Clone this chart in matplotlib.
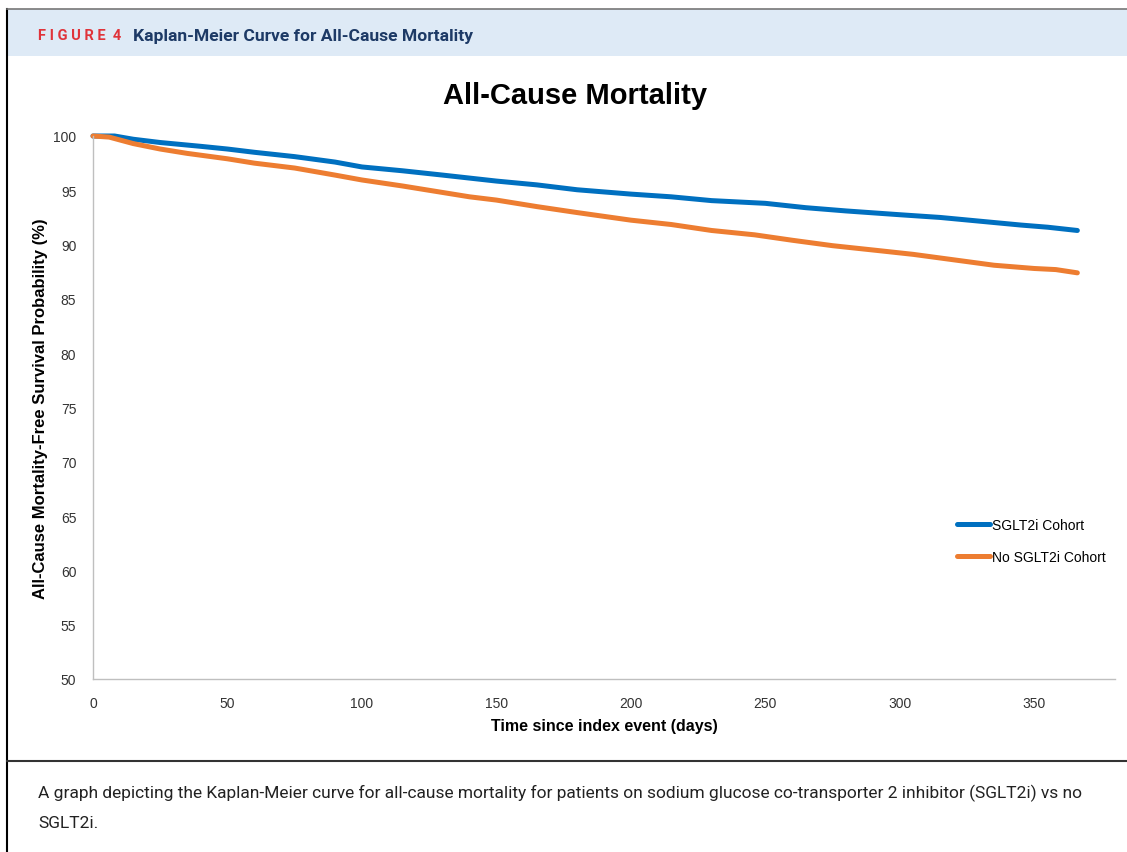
import matplotlib
matplotlib.use("Agg")
import matplotlib.pyplot as plt
from matplotlib.patches import Rectangle
from matplotlib.lines import Line2D

# Kaplan-Meier curves (days, survival %)
sglt2_days = [0, 8, 15, 25, 40, 50, 60, 75, 90, 100, 115, 130, 150, 165, 180,
              200, 215, 230, 250, 265, 280, 300, 315, 330, 345, 355, 366]
sglt2_surv = [100, 100, 99.7, 99.4, 99.05, 98.8, 98.5, 98.1, 97.6, 97.15, 96.8,
              96.4, 95.85, 95.5, 95.05, 94.65, 94.4, 94.05, 93.8, 93.4, 93.1,
              92.75, 92.5, 92.15, 91.8, 91.6, 91.3]

no_sglt2_days = [0, 6, 15, 25, 35, 50, 60, 75, 90, 100, 115, 130, 140, 150, 165,
                 180, 200, 215, 230, 246, 260, 275, 292, 305, 320, 335, 350, 358, 366]
no_sglt2_surv = [100, 99.9, 99.3, 98.8, 98.4, 97.9, 97.5, 97.05, 96.4, 95.95,
                 95.4, 94.8, 94.4, 94.1, 93.5, 92.95, 92.25, 91.85, 91.3, 90.9,
                 90.4, 89.9, 89.45, 89.1, 88.6, 88.1, 87.8, 87.7, 87.4]

x_ticks = [0, 50, 100, 150, 200, 250, 300, 350]
y_ticks = [50, 55, 60, 65, 70, 75, 80, 85, 90, 95, 100]

W, H = 1127, 853
fig = plt.figure(figsize=(W / 100, H / 100), dpi=100)


def fx(px):
    return px / W


def fy(py):
    return 1 - py / H


# header band and frame
fig.patches.append(Rectangle((fx(7), fy(57)), 1 - fx(7), (57 - 10) / H,
                             transform=fig.transFigure, facecolor="#deeaf6",
                             edgecolor="none", zorder=0))
fig.lines.append(Line2D([fx(7), fx(7)], [0, fy(10)], transform=fig.transFigure,
                        color="black", linewidth=1.5))
fig.lines.append(Line2D([fx(7), 1], [fy(10), fy(10)], transform=fig.transFigure,
                        color="#777777", linewidth=1.2))
fig.lines.append(Line2D([fx(7), 1], [fy(762), fy(762)], transform=fig.transFigure,
                        color="#333333", linewidth=1.5))

fig.text(fx(38), fy(36), "F I G U R E  4", color="#e0333a", fontsize=10.5,
         fontweight="bold", family="Roboto", va="center", ha="left")
fig.text(fx(133), fy(36), "Kaplan-Meier Curve for All-Cause Mortality",
         color="#1d3a66", fontsize=12.6, fontweight="bold", family="Roboto",
         va="center", ha="left")

caption = ("A graph depicting the Kaplan-Meier curve for all-cause mortality for patients "
           "on sodium glucose co-transporter 2 inhibitor (SGLT2i) vs no\nSGLT2i.")
fig.text(fx(38), fy(785), caption, color="#222222", fontsize=12.5,
         family="Roboto", va="top", ha="left", linespacing=2.15)

fig.text(fx(575), fy(96), "All-Cause Mortality", fontsize=21, fontweight="bold",
         family="Liberation Sans", ha="center", va="center")

ax = fig.add_axes([fx(93), fy(680), fx(1115) - fx(93), (680 - 137) / H])
ax.plot(sglt2_days, sglt2_surv, color="#0070C0", linewidth=3.6,
        solid_capstyle="round", clip_on=False, label="SGLT2i Cohort")
ax.plot(no_sglt2_days, no_sglt2_surv, color="#ED7D31", linewidth=3.6,
        solid_capstyle="round", clip_on=False, label="No SGLT2i Cohort")

ax.set_xlim(0, 380)
ax.set_ylim(50, 100)
ax.set_xticks(x_ticks)
ax.set_yticks(y_ticks)
ax.tick_params(length=0, labelsize=10, colors="#333333")
for lbl in ax.get_xticklabels() + ax.get_yticklabels():
    lbl.set_family("Liberation Sans")
ax.tick_params(axis="y", pad=12)
ax.tick_params(axis="x", pad=12)
for s in ["top", "right"]:
    ax.spines[s].set_visible(False)
for s in ["left", "bottom"]:
    ax.spines[s].set_color("#bfbfbf")
    ax.spines[s].set_linewidth(1)

ax.set_xlabel("Time since index event (days)", fontsize=11.5, fontweight="bold",
              family="Liberation Sans", labelpad=6)
ax.set_ylabel("All-Cause Mortality-Free Survival Probability (%)", fontsize=12,
              fontweight="bold", family="Liberation Sans", labelpad=4)

ax.legend(loc="center left", bbox_to_anchor=(0.833, 0.255), frameon=False,
          prop={"family": "Liberation Sans", "size": 10},
          handlelength=2.4, handletextpad=0.1, labelspacing=1.3)

fig.savefig("out.png", dpi=100)
